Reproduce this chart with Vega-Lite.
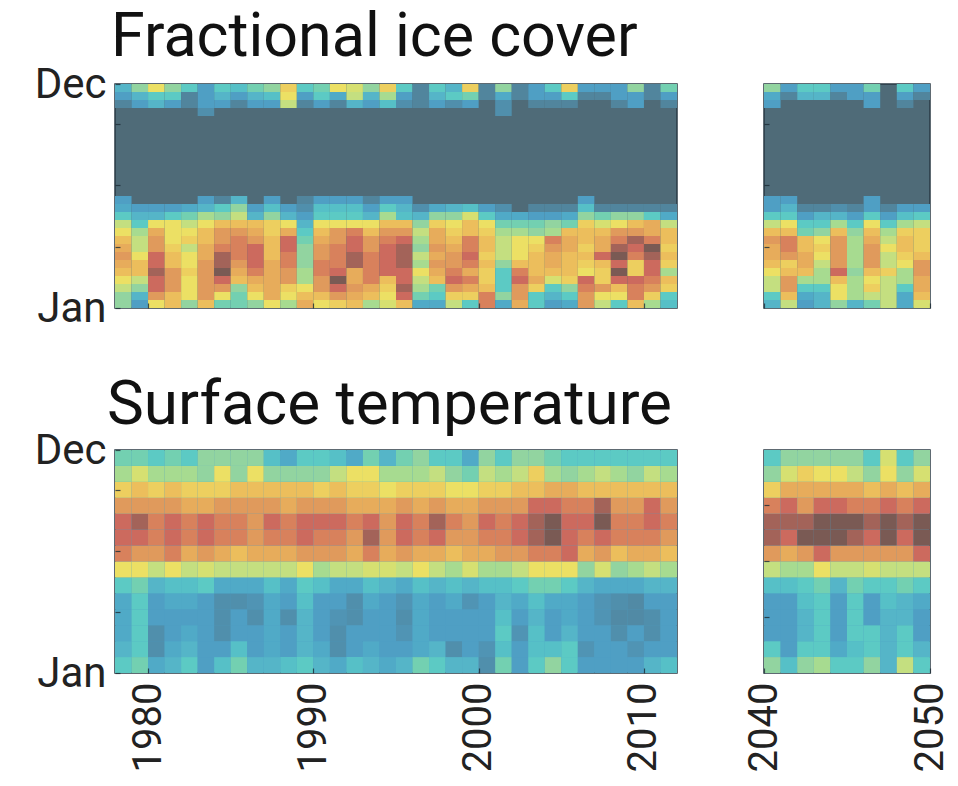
{"$schema":"https://vega.github.io/schema/vega-lite/v6.json","background":"white","padding":{"left":33,"top":6,"right":0,"bottom":0},"bounds":"flush","columns":2,"spacing":{"column":87,"row":142},"config":{"font":"Roboto","axis":{"grid":false,"domain":false,"labelFont":"Roboto","labelColor":"#222222","tickColor":"#1c2c34","tickOpacity":0.8,"tickWidth":1.2}},
"datasets":{
"ice1":[
{"x":1978,"d":0,"v":4},{"x":1978,"d":1,"v":4},{"x":1978,"d":2,"v":5},{"x":1978,"d":3,"v":6},{"x":1978,"d":4,"v":7},{"x":1978,"d":5,"v":7.5},{"x":1978,"d":6,"v":8},{"x":1978,"d":7,"v":7.5},{"x":1978,"d":8,"v":7},{"x":1978,"d":9,"v":6},{"x":1978,"d":10,"v":5},{"x":1978,"d":11,"v":3},{"x":1978,"d":12,"v":1.5},{"x":1978,"d":13,"v":1},{"x":1978,"d":25,"v":0.5},{"x":1978,"d":26,"v":1},{"x":1978,"d":27,"v":2},
{"x":1979,"d":0,"v":1},{"x":1979,"d":1,"v":2},{"x":1979,"d":2,"v":4},{"x":1979,"d":3,"v":5},{"x":1979,"d":4,"v":7},{"x":1979,"d":5,"v":7},{"x":1979,"d":6,"v":6},{"x":1979,"d":7,"v":5},{"x":1979,"d":8,"v":5},{"x":1979,"d":9,"v":4.5},{"x":1979,"d":10,"v":3},{"x":1979,"d":11,"v":2},{"x":1979,"d":12,"v":1},{"x":1979,"d":25,"v":1},{"x":1979,"d":26,"v":2},{"x":1979,"d":27,"v":4},
{"x":1980,"d":0,"v":6},{"x":1980,"d":1,"v":8},{"x":1980,"d":2,"v":9},{"x":1980,"d":3,"v":9},{"x":1980,"d":4,"v":9.5},{"x":1980,"d":5,"v":9},{"x":1980,"d":6,"v":9},{"x":1980,"d":7,"v":8},{"x":1980,"d":8,"v":8},{"x":1980,"d":9,"v":7.5},{"x":1980,"d":10,"v":6},{"x":1980,"d":11,"v":2},{"x":1980,"d":12,"v":1},{"x":1980,"d":25,"v":2},{"x":1980,"d":26,"v":3},{"x":1980,"d":27,"v":6},
{"x":1981,"d":0,"v":7},{"x":1981,"d":1,"v":7},{"x":1981,"d":2,"v":8},{"x":1981,"d":3,"v":8},{"x":1981,"d":4,"v":8},{"x":1981,"d":5,"v":7},{"x":1981,"d":6,"v":7},{"x":1981,"d":7,"v":6.5},{"x":1981,"d":8,"v":6},{"x":1981,"d":9,"v":6},{"x":1981,"d":10,"v":6},{"x":1981,"d":11,"v":3},{"x":1981,"d":12,"v":1},{"x":1981,"d":25,"v":1},{"x":1981,"d":26,"v":3},{"x":1981,"d":27,"v":4},
{"x":1982,"d":0,"v":4},{"x":1982,"d":1,"v":6},{"x":1982,"d":2,"v":6},{"x":1982,"d":3,"v":6},{"x":1982,"d":4,"v":6.5},{"x":1982,"d":5,"v":6},{"x":1982,"d":6,"v":6},{"x":1982,"d":7,"v":5},{"x":1982,"d":8,"v":6.5},{"x":1982,"d":9,"v":6},{"x":1982,"d":10,"v":5},{"x":1982,"d":11,"v":3.5},{"x":1982,"d":12,"v":1.5},{"x":1982,"d":25,"v":0.5},{"x":1982,"d":26,"v":0.5},{"x":1982,"d":27,"v":3},
{"x":1983,"d":0,"v":7},{"x":1983,"d":1,"v":8},{"x":1983,"d":2,"v":8},{"x":1983,"d":3,"v":8},{"x":1983,"d":4,"v":8},{"x":1983,"d":5,"v":8},{"x":1983,"d":6,"v":7.5},{"x":1983,"d":7,"v":7.5},{"x":1983,"d":8,"v":7},{"x":1983,"d":9,"v":7},{"x":1983,"d":10,"v":6},{"x":1983,"d":11,"v":4.5},{"x":1983,"d":12,"v":2},{"x":1983,"d":13,"v":1},{"x":1983,"d":24,"v":0.7},{"x":1983,"d":25,"v":1},{"x":1983,"d":26,"v":1},{"x":1983,"d":27,"v":1},
{"x":1984,"d":0,"v":3.5},{"x":1984,"d":1,"v":6},{"x":1984,"d":2,"v":8},{"x":1984,"d":3,"v":9},{"x":1984,"d":4,"v":10},{"x":1984,"d":5,"v":9.5},{"x":1984,"d":6,"v":9.5},{"x":1984,"d":7,"v":8.5},{"x":1984,"d":8,"v":8},{"x":1984,"d":9,"v":8},{"x":1984,"d":10,"v":7},{"x":1984,"d":11,"v":4},{"x":1984,"d":12,"v":3},{"x":1984,"d":13,"v":0.5},{"x":1984,"d":25,"v":1},{"x":1984,"d":26,"v":2},{"x":1984,"d":27,"v":3},
{"x":1985,"d":0,"v":3.5},{"x":1985,"d":1,"v":3.5},{"x":1985,"d":2,"v":4},{"x":1985,"d":3,"v":7},{"x":1985,"d":4,"v":7.5},{"x":1985,"d":5,"v":8},{"x":1985,"d":6,"v":8.5},{"x":1985,"d":7,"v":8.5},{"x":1985,"d":8,"v":8.5},{"x":1985,"d":9,"v":8},{"x":1985,"d":10,"v":7},{"x":1985,"d":11,"v":5},{"x":1985,"d":12,"v":4},{"x":1985,"d":13,"v":2},{"x":1985,"d":25,"v":0.5},{"x":1985,"d":26,"v":1},{"x":1985,"d":27,"v":2.5},
{"x":1986,"d":0,"v":4},{"x":1986,"d":1,"v":6},{"x":1986,"d":2,"v":7},{"x":1986,"d":3,"v":7.5},{"x":1986,"d":4,"v":8.5},{"x":1986,"d":5,"v":9},{"x":1986,"d":6,"v":9},{"x":1986,"d":7,"v":9},{"x":1986,"d":8,"v":8},{"x":1986,"d":9,"v":7.5},{"x":1986,"d":10,"v":7},{"x":1986,"d":11,"v":2},{"x":1986,"d":12,"v":1},{"x":1986,"d":25,"v":1},{"x":1986,"d":26,"v":2},{"x":1986,"d":27,"v":3.5},
{"x":1987,"d":0,"v":6},{"x":1987,"d":1,"v":7.5},{"x":1987,"d":2,"v":7.5},{"x":1987,"d":3,"v":7.5},{"x":1987,"d":4,"v":7.5},{"x":1987,"d":5,"v":7.5},{"x":1987,"d":6,"v":7},{"x":1987,"d":7,"v":7},{"x":1987,"d":8,"v":7},{"x":1987,"d":9,"v":6.5},{"x":1987,"d":10,"v":6.5},{"x":1987,"d":11,"v":4},{"x":1987,"d":12,"v":2.5},{"x":1987,"d":13,"v":1},{"x":1987,"d":25,"v":1},{"x":1987,"d":26,"v":2.5},{"x":1987,"d":27,"v":4},
{"x":1988,"d":0,"v":4.5},{"x":1988,"d":1,"v":6},{"x":1988,"d":2,"v":6.5},{"x":1988,"d":3,"v":8},{"x":1988,"d":4,"v":8},{"x":1988,"d":5,"v":8.5},{"x":1988,"d":6,"v":8.5},{"x":1988,"d":7,"v":9},{"x":1988,"d":8,"v":9},{"x":1988,"d":9,"v":7.5},{"x":1988,"d":10,"v":6},{"x":1988,"d":11,"v":2},{"x":1988,"d":12,"v":1},{"x":1988,"d":25,"v":5},{"x":1988,"d":26,"v":6},{"x":1988,"d":27,"v":6.5},
{"x":1989,"d":0,"v":7.5},{"x":1989,"d":1,"v":7},{"x":1989,"d":2,"v":6},{"x":1989,"d":3,"v":4.5},{"x":1989,"d":4,"v":4.5},{"x":1989,"d":5,"v":4},{"x":1989,"d":6,"v":4},{"x":1989,"d":7,"v":4},{"x":1989,"d":8,"v":3.5},{"x":1989,"d":9,"v":3},{"x":1989,"d":10,"v":2},{"x":1989,"d":11,"v":1},{"x":1989,"d":12,"v":0.7},{"x":1989,"d":13,"v":0.5},{"x":1989,"d":25,"v":0.5},{"x":1989,"d":26,"v":1},{"x":1989,"d":27,"v":3},
{"x":1990,"d":0,"v":6},{"x":1990,"d":1,"v":7},{"x":1990,"d":2,"v":8},{"x":1990,"d":3,"v":8},{"x":1990,"d":4,"v":8.5},{"x":1990,"d":5,"v":8.5},{"x":1990,"d":6,"v":8},{"x":1990,"d":7,"v":8},{"x":1990,"d":8,"v":7.5},{"x":1990,"d":9,"v":7},{"x":1990,"d":10,"v":6},{"x":1990,"d":11,"v":3},{"x":1990,"d":12,"v":2.5},{"x":1990,"d":13,"v":1},{"x":1990,"d":25,"v":1},{"x":1990,"d":26,"v":3},{"x":1990,"d":27,"v":3.5},
{"x":1991,"d":0,"v":6.5},{"x":1991,"d":1,"v":8},{"x":1991,"d":2,"v":9},{"x":1991,"d":3,"v":10},{"x":1991,"d":4,"v":9},{"x":1991,"d":5,"v":8.5},{"x":1991,"d":6,"v":8.5},{"x":1991,"d":7,"v":8.5},{"x":1991,"d":8,"v":8},{"x":1991,"d":9,"v":8},{"x":1991,"d":10,"v":6},{"x":1991,"d":11,"v":3},{"x":1991,"d":12,"v":2.5},{"x":1991,"d":13,"v":1},{"x":1991,"d":25,"v":0.5},{"x":1991,"d":26,"v":1.5},{"x":1991,"d":27,"v":6},
{"x":1992,"d":0,"v":7},{"x":1992,"d":1,"v":7.5},{"x":1992,"d":2,"v":8},{"x":1992,"d":3,"v":7.5},{"x":1992,"d":4,"v":7.5},{"x":1992,"d":5,"v":9.5},{"x":1992,"d":6,"v":9.5},{"x":1992,"d":7,"v":9},{"x":1992,"d":8,"v":9},{"x":1992,"d":9,"v":8.5},{"x":1992,"d":10,"v":6},{"x":1992,"d":11,"v":3},{"x":1992,"d":12,"v":2.5},{"x":1992,"d":13,"v":1},{"x":1992,"d":25,"v":2},{"x":1992,"d":26,"v":5},{"x":1992,"d":27,"v":5.5},
{"x":1993,"d":0,"v":4.5},{"x":1993,"d":1,"v":7},{"x":1993,"d":2,"v":7.5},{"x":1993,"d":3,"v":8.5},{"x":1993,"d":4,"v":8.5},{"x":1993,"d":5,"v":8.5},{"x":1993,"d":6,"v":8.5},{"x":1993,"d":7,"v":8},{"x":1993,"d":8,"v":8},{"x":1993,"d":9,"v":7},{"x":1993,"d":10,"v":6},{"x":1993,"d":11,"v":2},{"x":1993,"d":12,"v":1},{"x":1993,"d":13,"v":0.5},{"x":1993,"d":25,"v":1},{"x":1993,"d":26,"v":2},{"x":1993,"d":27,"v":4},
{"x":1994,"d":0,"v":5.5},{"x":1994,"d":1,"v":6},{"x":1994,"d":2,"v":6.5},{"x":1994,"d":3,"v":7},{"x":1994,"d":4,"v":9},{"x":1994,"d":5,"v":9},{"x":1994,"d":6,"v":9},{"x":1994,"d":7,"v":9},{"x":1994,"d":8,"v":8.5},{"x":1994,"d":9,"v":8},{"x":1994,"d":10,"v":7},{"x":1994,"d":11,"v":4.5},{"x":1994,"d":12,"v":3},{"x":1994,"d":13,"v":1},{"x":1994,"d":25,"v":2.5},{"x":1994,"d":26,"v":4.5},{"x":1994,"d":27,"v":6.5},
{"x":1995,"d":0,"v":7},{"x":1995,"d":1,"v":9},{"x":1995,"d":2,"v":9.5},{"x":1995,"d":3,"v":9},{"x":1995,"d":4,"v":9},{"x":1995,"d":5,"v":9.5},{"x":1995,"d":6,"v":9.5},{"x":1995,"d":7,"v":9.5},{"x":1995,"d":8,"v":9},{"x":1995,"d":9,"v":8},{"x":1995,"d":10,"v":7},{"x":1995,"d":11,"v":2.5},{"x":1995,"d":12,"v":2},{"x":1995,"d":13,"v":1},{"x":1995,"d":25,"v":0.7},{"x":1995,"d":26,"v":1},{"x":1995,"d":27,"v":3},
{"x":1996,"d":0,"v":1.5},{"x":1996,"d":1,"v":3.5},{"x":1996,"d":2,"v":4.5},{"x":1996,"d":3,"v":5},{"x":1996,"d":4,"v":6},{"x":1996,"d":5,"v":4.5},{"x":1996,"d":6,"v":5},{"x":1996,"d":7,"v":4},{"x":1996,"d":8,"v":4.5},{"x":1996,"d":9,"v":5},{"x":1996,"d":10,"v":4},{"x":1996,"d":11,"v":2},{"x":1996,"d":12,"v":0.7},{"x":1996,"d":25,"v":0.5},{"x":1996,"d":26,"v":0.5},{"x":1996,"d":27,"v":0.5},
{"x":1997,"d":0,"v":1.5},{"x":1997,"d":1,"v":3},{"x":1997,"d":2,"v":3.5},{"x":1997,"d":3,"v":7},{"x":1997,"d":4,"v":7.5},{"x":1997,"d":5,"v":8},{"x":1997,"d":6,"v":7.5},{"x":1997,"d":7,"v":8},{"x":1997,"d":8,"v":7.5},{"x":1997,"d":9,"v":7.5},{"x":1997,"d":10,"v":6.5},{"x":1997,"d":11,"v":4},{"x":1997,"d":12,"v":1.5},{"x":1997,"d":25,"v":1},{"x":1997,"d":26,"v":2},{"x":1997,"d":27,"v":3},
{"x":1998,"d":0,"v":5},{"x":1998,"d":1,"v":6.5},{"x":1998,"d":2,"v":8},{"x":1998,"d":3,"v":9},{"x":1998,"d":4,"v":8.5},{"x":1998,"d":5,"v":8},{"x":1998,"d":6,"v":8},{"x":1998,"d":7,"v":7.5},{"x":1998,"d":8,"v":7},{"x":1998,"d":9,"v":6.5},{"x":1998,"d":10,"v":6},{"x":1998,"d":11,"v":4},{"x":1998,"d":12,"v":2},{"x":1998,"d":25,"v":0.7},{"x":1998,"d":26,"v":3},{"x":1998,"d":27,"v":2},
{"x":1999,"d":0,"v":3},{"x":1999,"d":1,"v":6.5},{"x":1999,"d":2,"v":7.5},{"x":1999,"d":3,"v":8.5},{"x":1999,"d":4,"v":7.5},{"x":1999,"d":5,"v":8.5},{"x":1999,"d":6,"v":9},{"x":1999,"d":7,"v":8.5},{"x":1999,"d":8,"v":8.5},{"x":1999,"d":9,"v":7},{"x":1999,"d":10,"v":7},{"x":1999,"d":11,"v":5.5},{"x":1999,"d":12,"v":2.5},{"x":1999,"d":25,"v":1},{"x":1999,"d":26,"v":3.5},{"x":1999,"d":27,"v":6.5},
{"x":2000,"d":0,"v":8.5},{"x":2000,"d":1,"v":8.5},{"x":2000,"d":2,"v":7},{"x":2000,"d":3,"v":6.5},{"x":2000,"d":4,"v":6.5},{"x":2000,"d":5,"v":7},{"x":2000,"d":6,"v":6.5},{"x":2000,"d":7,"v":7},{"x":2000,"d":8,"v":7},{"x":2000,"d":9,"v":6.5},{"x":2000,"d":10,"v":6},{"x":2000,"d":11,"v":3},{"x":2000,"d":12,"v":1},{"x":2000,"d":26,"v":0.5},{"x":2000,"d":27,"v":0.5},
{"x":2001,"d":0,"v":1.5},{"x":2001,"d":1,"v":4},{"x":2001,"d":2,"v":3},{"x":2001,"d":3,"v":3},{"x":2001,"d":4,"v":3},{"x":2001,"d":5,"v":4},{"x":2001,"d":6,"v":5},{"x":2001,"d":7,"v":5},{"x":2001,"d":8,"v":5},{"x":2001,"d":9,"v":4.5},{"x":2001,"d":10,"v":3.5},{"x":2001,"d":11,"v":1.5},{"x":2001,"d":12,"v":0.7},{"x":2001,"d":24,"v":0.7},{"x":2001,"d":25,"v":0.7},{"x":2001,"d":26,"v":1.5},{"x":2001,"d":27,"v":4},
{"x":2002,"d":0,"v":7.5},{"x":2002,"d":1,"v":8},{"x":2002,"d":2,"v":8},{"x":2002,"d":3,"v":9},{"x":2002,"d":4,"v":8.5},{"x":2002,"d":5,"v":7},{"x":2002,"d":6,"v":6},{"x":2002,"d":7,"v":6},{"x":2002,"d":8,"v":6},{"x":2002,"d":9,"v":4.5},{"x":2002,"d":10,"v":3.5},{"x":2002,"d":11,"v":1.5},{"x":2002,"d":26,"v":0.5},{"x":2002,"d":27,"v":0.5},
{"x":2003,"d":0,"v":3},{"x":2003,"d":1,"v":3},{"x":2003,"d":2,"v":6.5},{"x":2003,"d":3,"v":7.5},{"x":2003,"d":4,"v":7},{"x":2003,"d":5,"v":7},{"x":2003,"d":6,"v":7},{"x":2003,"d":7,"v":6.5},{"x":2003,"d":8,"v":6},{"x":2003,"d":9,"v":4},{"x":2003,"d":10,"v":3.5},{"x":2003,"d":11,"v":1},{"x":2003,"d":12,"v":0.5},{"x":2003,"d":25,"v":0.5},{"x":2003,"d":26,"v":1},{"x":2003,"d":27,"v":1},
{"x":2004,"d":0,"v":1},{"x":2004,"d":1,"v":2},{"x":2004,"d":2,"v":3},{"x":2004,"d":3,"v":5.5},{"x":2004,"d":4,"v":7},{"x":2004,"d":5,"v":7.5},{"x":2004,"d":6,"v":7.5},{"x":2004,"d":7,"v":8},{"x":2004,"d":8,"v":8.5},{"x":2004,"d":9,"v":4.5},{"x":2004,"d":10,"v":4},{"x":2004,"d":11,"v":1},{"x":2004,"d":12,"v":0.5},{"x":2004,"d":25,"v":0.5},{"x":2004,"d":26,"v":1},{"x":2004,"d":27,"v":3},
{"x":2005,"d":0,"v":1.5},{"x":2005,"d":1,"v":3},{"x":2005,"d":2,"v":4},{"x":2005,"d":3,"v":6.5},{"x":2005,"d":4,"v":7},{"x":2005,"d":5,"v":7},{"x":2005,"d":6,"v":7},{"x":2005,"d":7,"v":7.5},{"x":2005,"d":8,"v":7.5},{"x":2005,"d":9,"v":7},{"x":2005,"d":10,"v":3.5},{"x":2005,"d":11,"v":1.5},{"x":2005,"d":12,"v":0.5},{"x":2005,"d":25,"v":0.5},{"x":2005,"d":26,"v":3},{"x":2005,"d":27,"v":6.5},
{"x":2006,"d":0,"v":8},{"x":2006,"d":1,"v":8},{"x":2006,"d":2,"v":8.5},{"x":2006,"d":3,"v":9},{"x":2006,"d":4,"v":6},{"x":2006,"d":5,"v":6.5},{"x":2006,"d":6,"v":7},{"x":2006,"d":7,"v":6.5},{"x":2006,"d":8,"v":7},{"x":2006,"d":9,"v":7},{"x":2006,"d":10,"v":6.5},{"x":2006,"d":11,"v":4},{"x":2006,"d":12,"v":2.5},{"x":2006,"d":13,"v":1},{"x":2006,"d":26,"v":0.5},{"x":2006,"d":27,"v":1},
{"x":2007,"d":0,"v":5},{"x":2007,"d":1,"v":6},{"x":2007,"d":2,"v":8},{"x":2007,"d":3,"v":6.5},{"x":2007,"d":4,"v":6.5},{"x":2007,"d":5,"v":7},{"x":2007,"d":6,"v":9},{"x":2007,"d":7,"v":7.5},{"x":2007,"d":8,"v":7.5},{"x":2007,"d":9,"v":7},{"x":2007,"d":10,"v":5.5},{"x":2007,"d":11,"v":3.5},{"x":2007,"d":12,"v":0.5},{"x":2007,"d":26,"v":0.5},{"x":2007,"d":27,"v":1},
{"x":2008,"d":0,"v":3},{"x":2008,"d":1,"v":6},{"x":2008,"d":2,"v":7},{"x":2008,"d":3,"v":9},{"x":2008,"d":4,"v":10},{"x":2008,"d":5,"v":9},{"x":2008,"d":6,"v":10},{"x":2008,"d":7,"v":9.5},{"x":2008,"d":8,"v":8.5},{"x":2008,"d":9,"v":8},{"x":2008,"d":10,"v":6},{"x":2008,"d":11,"v":4},{"x":2008,"d":12,"v":0.5},{"x":2008,"d":25,"v":0.5},{"x":2008,"d":26,"v":1},{"x":2008,"d":27,"v":1},
{"x":2009,"d":0,"v":7},{"x":2009,"d":1,"v":8.5},{"x":2009,"d":2,"v":8.5},{"x":2009,"d":3,"v":9},{"x":2009,"d":4,"v":6.5},{"x":2009,"d":5,"v":6.5},{"x":2009,"d":6,"v":8.5},{"x":2009,"d":7,"v":9},{"x":2009,"d":8,"v":9.5},{"x":2009,"d":9,"v":8},{"x":2009,"d":10,"v":7},{"x":2009,"d":11,"v":4},{"x":2009,"d":12,"v":0.5},{"x":2009,"d":25,"v":1},{"x":2009,"d":26,"v":1},{"x":2009,"d":27,"v":4},
{"x":2010,"d":0,"v":4.5},{"x":2010,"d":1,"v":6.5},{"x":2010,"d":2,"v":8},{"x":2010,"d":3,"v":8.5},{"x":2010,"d":4,"v":9},{"x":2010,"d":5,"v":9},{"x":2010,"d":6,"v":9.5},{"x":2010,"d":7,"v":10},{"x":2010,"d":8,"v":8.5},{"x":2010,"d":9,"v":7.5},{"x":2010,"d":10,"v":7.5},{"x":2010,"d":11,"v":3},{"x":2010,"d":12,"v":0.5},{"x":2010,"d":26,"v":0.5},{"x":2010,"d":27,"v":0.5},
{"x":2011,"d":0,"v":2.5},{"x":2011,"d":1,"v":3},{"x":2011,"d":2,"v":6.5},{"x":2011,"d":3,"v":7},{"x":2011,"d":4,"v":4.5},{"x":2011,"d":5,"v":6.5},{"x":2011,"d":6,"v":7},{"x":2011,"d":7,"v":6.5},{"x":2011,"d":8,"v":7},{"x":2011,"d":9,"v":7},{"x":2011,"d":10,"v":5},{"x":2011,"d":11,"v":1.5},{"x":2011,"d":12,"v":0.5},{"x":2011,"d":25,"v":0.5},{"x":2011,"d":26,"v":1},{"x":2011,"d":27,"v":3.5}
],
"ice2":[
{"x":2040,"d":0,"v":2},{"x":2040,"d":1,"v":3},{"x":2040,"d":2,"v":5},{"x":2040,"d":3,"v":5},{"x":2040,"d":4,"v":6},{"x":2040,"d":5,"v":7},{"x":2040,"d":6,"v":7.5},{"x":2040,"d":7,"v":7.5},{"x":2040,"d":8,"v":8},{"x":2040,"d":9,"v":7},{"x":2040,"d":10,"v":5},{"x":2040,"d":11,"v":3},{"x":2040,"d":12,"v":1},{"x":2040,"d":13,"v":1},{"x":2040,"d":25,"v":1},{"x":2040,"d":26,"v":1.5},{"x":2040,"d":27,"v":4},
{"x":2041,"d":0,"v":5},{"x":2041,"d":1,"v":7},{"x":2041,"d":2,"v":8},{"x":2041,"d":3,"v":8},{"x":2041,"d":4,"v":7},{"x":2041,"d":5,"v":6.5},{"x":2041,"d":6,"v":8},{"x":2041,"d":7,"v":8.5},{"x":2041,"d":8,"v":8.5},{"x":2041,"d":9,"v":7},{"x":2041,"d":10,"v":6},{"x":2041,"d":11,"v":3},{"x":2041,"d":12,"v":2},{"x":2041,"d":13,"v":1},{"x":2041,"d":26,"v":0.5},{"x":2041,"d":27,"v":1},
{"x":2042,"d":0,"v":1},{"x":2042,"d":1,"v":1.5},{"x":2042,"d":2,"v":3},{"x":2042,"d":3,"v":4.5},{"x":2042,"d":4,"v":7},{"x":2042,"d":5,"v":7.5},{"x":2042,"d":6,"v":7.5},{"x":2042,"d":7,"v":7},{"x":2042,"d":8,"v":7},{"x":2042,"d":9,"v":3.5},{"x":2042,"d":10,"v":3},{"x":2042,"d":11,"v":1},{"x":2042,"d":12,"v":0.5},{"x":2042,"d":26,"v":2},{"x":2042,"d":27,"v":3},
{"x":2043,"d":0,"v":2},{"x":2043,"d":1,"v":2},{"x":2043,"d":2,"v":3},{"x":2043,"d":3,"v":4.5},{"x":2043,"d":4,"v":4.5},{"x":2043,"d":5,"v":5},{"x":2043,"d":6,"v":6},{"x":2043,"d":7,"v":6.5},{"x":2043,"d":8,"v":6},{"x":2043,"d":9,"v":4},{"x":2043,"d":10,"v":3},{"x":2043,"d":11,"v":2},{"x":2043,"d":12,"v":0.5},{"x":2043,"d":26,"v":2},{"x":2043,"d":27,"v":3},
{"x":2044,"d":0,"v":4},{"x":2044,"d":1,"v":6},{"x":2044,"d":2,"v":6},{"x":2044,"d":3,"v":7},{"x":2044,"d":4,"v":9},{"x":2044,"d":5,"v":8},{"x":2044,"d":6,"v":8},{"x":2044,"d":7,"v":8},{"x":2044,"d":8,"v":8},{"x":2044,"d":9,"v":7},{"x":2044,"d":10,"v":4.5},{"x":2044,"d":11,"v":2},{"x":2044,"d":12,"v":0.7},{"x":2044,"d":26,"v":0.5},{"x":2044,"d":27,"v":1},
{"x":2045,"d":0,"v":2},{"x":2045,"d":1,"v":4.5},{"x":2045,"d":2,"v":4.5},{"x":2045,"d":3,"v":4.5},{"x":2045,"d":4,"v":4},{"x":2045,"d":5,"v":4.5},{"x":2045,"d":6,"v":4.5},{"x":2045,"d":7,"v":4.5},{"x":2045,"d":8,"v":4.5},{"x":2045,"d":9,"v":4},{"x":2045,"d":10,"v":3},{"x":2045,"d":11,"v":1},{"x":2045,"d":12,"v":0.5},{"x":2045,"d":26,"v":1},{"x":2045,"d":27,"v":1},
{"x":2046,"d":0,"v":3.5},{"x":2046,"d":1,"v":5},{"x":2046,"d":2,"v":6.5},{"x":2046,"d":3,"v":6},{"x":2046,"d":4,"v":7},{"x":2046,"d":5,"v":8},{"x":2046,"d":6,"v":8},{"x":2046,"d":7,"v":8},{"x":2046,"d":8,"v":7.5},{"x":2046,"d":9,"v":7},{"x":2046,"d":10,"v":6},{"x":2046,"d":11,"v":3},{"x":2046,"d":12,"v":1},{"x":2046,"d":13,"v":1},{"x":2046,"d":25,"v":1},{"x":2046,"d":26,"v":1},{"x":2046,"d":27,"v":3.5},
{"x":2047,"d":0,"v":5},{"x":2047,"d":1,"v":5},{"x":2047,"d":2,"v":5},{"x":2047,"d":3,"v":5},{"x":2047,"d":4,"v":6.5},{"x":2047,"d":5,"v":5},{"x":2047,"d":6,"v":5},{"x":2047,"d":7,"v":6},{"x":2047,"d":8,"v":5},{"x":2047,"d":9,"v":4.5},{"x":2047,"d":10,"v":3},{"x":2047,"d":11,"v":1},{"x":2047,"d":12,"v":0.5},
{"x":2048,"d":0,"v":1.5},{"x":2048,"d":1,"v":1.5},{"x":2048,"d":2,"v":3},{"x":2048,"d":3,"v":4.5},{"x":2048,"d":4,"v":4.5},{"x":2048,"d":5,"v":6},{"x":2048,"d":6,"v":6.5},{"x":2048,"d":7,"v":7},{"x":2048,"d":8,"v":7},{"x":2048,"d":9,"v":6.5},{"x":2048,"d":10,"v":4.5},{"x":2048,"d":11,"v":2.5},{"x":2048,"d":12,"v":1},{"x":2048,"d":25,"v":0.5},{"x":2048,"d":26,"v":1},{"x":2048,"d":27,"v":3},
{"x":2049,"d":0,"v":5.5},{"x":2049,"d":1,"v":7},{"x":2049,"d":2,"v":7.5},{"x":2049,"d":3,"v":7.5},{"x":2049,"d":4,"v":8},{"x":2049,"d":5,"v":8},{"x":2049,"d":6,"v":7},{"x":2049,"d":7,"v":6.5},{"x":2049,"d":8,"v":6.5},{"x":2049,"d":9,"v":6.5},{"x":2049,"d":10,"v":5},{"x":2049,"d":11,"v":3},{"x":2049,"d":12,"v":1},{"x":2049,"d":26,"v":0.5},{"x":2049,"d":27,"v":1}
],
"sst1":[
{"x":1978,"d":0,"v":3},{"x":1978,"d":1,"v":2},{"x":1978,"d":2,"v":1.5},{"x":1978,"d":3,"v":1.5},{"x":1978,"d":4,"v":1.5},{"x":1978,"d":5,"v":3},{"x":1978,"d":6,"v":6},{"x":1978,"d":7,"v":8.5},{"x":1978,"d":8,"v":9},{"x":1978,"d":9,"v":9},{"x":1978,"d":10,"v":8},{"x":1978,"d":11,"v":6.5},{"x":1978,"d":12,"v":4.5},{"x":1978,"d":13,"v":3.5},
{"x":1979,"d":0,"v":3.5},{"x":1979,"d":1,"v":3},{"x":1979,"d":2,"v":3},{"x":1979,"d":3,"v":3},{"x":1979,"d":4,"v":3},{"x":1979,"d":5,"v":3.5},{"x":1979,"d":6,"v":6},{"x":1979,"d":7,"v":8},{"x":1979,"d":8,"v":9},{"x":1979,"d":9,"v":9.5},{"x":1979,"d":10,"v":8},{"x":1979,"d":11,"v":7},{"x":1979,"d":12,"v":5.5},{"x":1979,"d":13,"v":3.5},
{"x":1980,"d":0,"v":1.5},{"x":1980,"d":1,"v":0.7},{"x":1980,"d":2,"v":0.7},{"x":1980,"d":3,"v":1},{"x":1980,"d":4,"v":1},{"x":1980,"d":5,"v":2},{"x":1980,"d":6,"v":5},{"x":1980,"d":7,"v":8},{"x":1980,"d":8,"v":8.5},{"x":1980,"d":9,"v":8.5},{"x":1980,"d":10,"v":8},{"x":1980,"d":11,"v":6.5},{"x":1980,"d":12,"v":4.5},{"x":1980,"d":13,"v":3},
{"x":1981,"d":0,"v":2},{"x":1981,"d":1,"v":1.5},{"x":1981,"d":2,"v":1},{"x":1981,"d":3,"v":1},{"x":1981,"d":4,"v":1.5},{"x":1981,"d":5,"v":2.5},{"x":1981,"d":6,"v":6},{"x":1981,"d":7,"v":8.5},{"x":1981,"d":8,"v":9},{"x":1981,"d":9,"v":9},{"x":1981,"d":10,"v":8},{"x":1981,"d":11,"v":7},{"x":1981,"d":12,"v":4.5},{"x":1981,"d":13,"v":3.5},
{"x":1982,"d":0,"v":3},{"x":1982,"d":1,"v":2},{"x":1982,"d":2,"v":1.5},{"x":1982,"d":3,"v":1},{"x":1982,"d":4,"v":1.5},{"x":1982,"d":5,"v":2.5},{"x":1982,"d":6,"v":5},{"x":1982,"d":7,"v":7.5},{"x":1982,"d":8,"v":8.5},{"x":1982,"d":9,"v":8.5},{"x":1982,"d":10,"v":7.5},{"x":1982,"d":11,"v":6.5},{"x":1982,"d":12,"v":4.5},{"x":1982,"d":13,"v":3},
{"x":1983,"d":0,"v":1},{"x":1983,"d":1,"v":1},{"x":1983,"d":2,"v":1},{"x":1983,"d":3,"v":1},{"x":1983,"d":4,"v":1},{"x":1983,"d":5,"v":3},{"x":1983,"d":6,"v":5.5},{"x":1983,"d":7,"v":8},{"x":1983,"d":8,"v":9},{"x":1983,"d":9,"v":9},{"x":1983,"d":10,"v":7.5},{"x":1983,"d":11,"v":6.5},{"x":1983,"d":12,"v":4},{"x":1983,"d":13,"v":4},
{"x":1984,"d":0,"v":2.5},{"x":1984,"d":1,"v":1},{"x":1984,"d":2,"v":0.7},{"x":1984,"d":3,"v":0.7},{"x":1984,"d":4,"v":0.7},{"x":1984,"d":5,"v":1.5},{"x":1984,"d":6,"v":5},{"x":1984,"d":7,"v":7.5},{"x":1984,"d":8,"v":8.5},{"x":1984,"d":9,"v":8.5},{"x":1984,"d":10,"v":8},{"x":1984,"d":11,"v":6.5},{"x":1984,"d":12,"v":6},{"x":1984,"d":13,"v":4},
{"x":1985,"d":0,"v":3.5},{"x":1985,"d":1,"v":2.5},{"x":1985,"d":2,"v":1},{"x":1985,"d":3,"v":1},{"x":1985,"d":4,"v":0.7},{"x":1985,"d":5,"v":1.5},{"x":1985,"d":6,"v":5},{"x":1985,"d":7,"v":7},{"x":1985,"d":8,"v":8.5},{"x":1985,"d":9,"v":8.5},{"x":1985,"d":10,"v":8},{"x":1985,"d":11,"v":7},{"x":1985,"d":12,"v":4},{"x":1985,"d":13,"v":4},
{"x":1986,"d":0,"v":2},{"x":1986,"d":1,"v":1},{"x":1986,"d":2,"v":1},{"x":1986,"d":3,"v":0.7},{"x":1986,"d":4,"v":0.8},{"x":1986,"d":5,"v":1.5},{"x":1986,"d":6,"v":5},{"x":1986,"d":7,"v":7.5},{"x":1986,"d":8,"v":8},{"x":1986,"d":9,"v":8},{"x":1986,"d":10,"v":8},{"x":1986,"d":11,"v":7},{"x":1986,"d":12,"v":6},{"x":1986,"d":13,"v":4},
{"x":1987,"d":0,"v":2},{"x":1987,"d":1,"v":1.5},{"x":1987,"d":2,"v":1.5},{"x":1987,"d":3,"v":1.5},{"x":1987,"d":4,"v":1.5},{"x":1987,"d":5,"v":2.5},{"x":1987,"d":6,"v":5},{"x":1987,"d":7,"v":7.5},{"x":1987,"d":8,"v":8.5},{"x":1987,"d":9,"v":9},{"x":1987,"d":10,"v":8},{"x":1987,"d":11,"v":7},{"x":1987,"d":12,"v":4},{"x":1987,"d":13,"v":2.5},
{"x":1988,"d":0,"v":2.5},{"x":1988,"d":1,"v":1},{"x":1988,"d":2,"v":1},{"x":1988,"d":3,"v":0.7},{"x":1988,"d":4,"v":1},{"x":1988,"d":5,"v":1.5},{"x":1988,"d":6,"v":5},{"x":1988,"d":7,"v":7.5},{"x":1988,"d":8,"v":8.5},{"x":1988,"d":9,"v":8.5},{"x":1988,"d":10,"v":7.5},{"x":1988,"d":11,"v":7},{"x":1988,"d":12,"v":4},{"x":1988,"d":13,"v":1.5},
{"x":1989,"d":0,"v":3},{"x":1989,"d":1,"v":2},{"x":1989,"d":2,"v":2},{"x":1989,"d":3,"v":2},{"x":1989,"d":4,"v":2.5},{"x":1989,"d":5,"v":3},{"x":1989,"d":6,"v":6},{"x":1989,"d":7,"v":8},{"x":1989,"d":8,"v":9},{"x":1989,"d":9,"v":9},{"x":1989,"d":10,"v":8},{"x":1989,"d":11,"v":7},{"x":1989,"d":12,"v":4},{"x":1989,"d":13,"v":3},
{"x":1990,"d":0,"v":2},{"x":1990,"d":1,"v":1.5},{"x":1990,"d":2,"v":1},{"x":1990,"d":3,"v":1},{"x":1990,"d":4,"v":1},{"x":1990,"d":5,"v":2.5},{"x":1990,"d":6,"v":4.5},{"x":1990,"d":7,"v":8},{"x":1990,"d":8,"v":8.5},{"x":1990,"d":9,"v":9},{"x":1990,"d":10,"v":8},{"x":1990,"d":11,"v":6.5},{"x":1990,"d":12,"v":4},{"x":1990,"d":13,"v":3},
{"x":1991,"d":0,"v":1.5},{"x":1991,"d":1,"v":0.7},{"x":1991,"d":2,"v":0.7},{"x":1991,"d":3,"v":0.8},{"x":1991,"d":4,"v":1},{"x":1991,"d":5,"v":1.5},{"x":1991,"d":6,"v":5},{"x":1991,"d":7,"v":8},{"x":1991,"d":8,"v":8.5},{"x":1991,"d":9,"v":9},{"x":1991,"d":10,"v":8},{"x":1991,"d":11,"v":7},{"x":1991,"d":12,"v":5},{"x":1991,"d":13,"v":2.5},
{"x":1992,"d":0,"v":2.5},{"x":1992,"d":1,"v":1},{"x":1992,"d":2,"v":1},{"x":1992,"d":3,"v":0.7},{"x":1992,"d":4,"v":0.7},{"x":1992,"d":5,"v":1.5},{"x":1992,"d":6,"v":5},{"x":1992,"d":7,"v":7.5},{"x":1992,"d":8,"v":8},{"x":1992,"d":9,"v":8.5},{"x":1992,"d":10,"v":7.5},{"x":1992,"d":11,"v":6.5},{"x":1992,"d":12,"v":6},{"x":1992,"d":13,"v":1.5},
{"x":1993,"d":0,"v":2},{"x":1993,"d":1,"v":1.5},{"x":1993,"d":2,"v":1},{"x":1993,"d":3,"v":1},{"x":1993,"d":4,"v":1.5},{"x":1993,"d":5,"v":2.5},{"x":1993,"d":6,"v":5.5},{"x":1993,"d":7,"v":8.5},{"x":1993,"d":8,"v":9.5},{"x":1993,"d":9,"v":9},{"x":1993,"d":10,"v":7.5},{"x":1993,"d":11,"v":6.5},{"x":1993,"d":12,"v":6},{"x":1993,"d":13,"v":3.5},
{"x":1994,"d":0,"v":1.5},{"x":1994,"d":1,"v":1},{"x":1994,"d":2,"v":1},{"x":1994,"d":3,"v":1},{"x":1994,"d":4,"v":1},{"x":1994,"d":5,"v":2},{"x":1994,"d":6,"v":5.5},{"x":1994,"d":7,"v":7.5},{"x":1994,"d":8,"v":8},{"x":1994,"d":9,"v":8},{"x":1994,"d":10,"v":7.5},{"x":1994,"d":11,"v":6},{"x":1994,"d":12,"v":4.5},{"x":1994,"d":13,"v":2},
{"x":1995,"d":0,"v":2},{"x":1995,"d":1,"v":1},{"x":1995,"d":2,"v":0.8},{"x":1995,"d":3,"v":0.7},{"x":1995,"d":4,"v":0.8},{"x":1995,"d":5,"v":1.5},{"x":1995,"d":6,"v":5},{"x":1995,"d":7,"v":8},{"x":1995,"d":8,"v":9},{"x":1995,"d":9,"v":9},{"x":1995,"d":10,"v":8},{"x":1995,"d":11,"v":6.5},{"x":1995,"d":12,"v":4.5},{"x":1995,"d":13,"v":3.5},
{"x":1996,"d":0,"v":3.5},{"x":1996,"d":1,"v":1.5},{"x":1996,"d":2,"v":1.5},{"x":1996,"d":3,"v":1.5},{"x":1996,"d":4,"v":1.5},{"x":1996,"d":5,"v":2.5},{"x":1996,"d":6,"v":6},{"x":1996,"d":7,"v":7.5},{"x":1996,"d":8,"v":8.5},{"x":1996,"d":9,"v":8.5},{"x":1996,"d":10,"v":7.5},{"x":1996,"d":11,"v":6.5},{"x":1996,"d":12,"v":4.5},{"x":1996,"d":13,"v":4},
{"x":1997,"d":0,"v":3},{"x":1997,"d":1,"v":2},{"x":1997,"d":2,"v":1},{"x":1997,"d":3,"v":1},{"x":1997,"d":4,"v":1},{"x":1997,"d":5,"v":2},{"x":1997,"d":6,"v":5},{"x":1997,"d":7,"v":7.5},{"x":1997,"d":8,"v":9},{"x":1997,"d":9,"v":9.5},{"x":1997,"d":10,"v":8},{"x":1997,"d":11,"v":6.5},{"x":1997,"d":12,"v":5},{"x":1997,"d":13,"v":3},
{"x":1998,"d":0,"v":2},{"x":1998,"d":1,"v":0.7},{"x":1998,"d":2,"v":1},{"x":1998,"d":3,"v":1},{"x":1998,"d":4,"v":1.5},{"x":1998,"d":5,"v":2.5},{"x":1998,"d":6,"v":4.5},{"x":1998,"d":7,"v":7},{"x":1998,"d":8,"v":8},{"x":1998,"d":9,"v":8.5},{"x":1998,"d":10,"v":7.5},{"x":1998,"d":11,"v":6},{"x":1998,"d":12,"v":4},{"x":1998,"d":13,"v":3},
{"x":1999,"d":0,"v":2},{"x":1999,"d":1,"v":1},{"x":1999,"d":2,"v":1},{"x":1999,"d":3,"v":1},{"x":1999,"d":4,"v":0.8},{"x":1999,"d":5,"v":2},{"x":1999,"d":6,"v":5.5},{"x":1999,"d":7,"v":7.5},{"x":1999,"d":8,"v":8},{"x":1999,"d":9,"v":8},{"x":1999,"d":10,"v":7.5},{"x":1999,"d":11,"v":6},{"x":1999,"d":12,"v":3.5},{"x":1999,"d":13,"v":1.5},
{"x":2000,"d":0,"v":0.7},{"x":2000,"d":1,"v":0.8},{"x":2000,"d":2,"v":1},{"x":2000,"d":3,"v":1},{"x":2000,"d":4,"v":1},{"x":2000,"d":5,"v":2.5},{"x":2000,"d":6,"v":4.5},{"x":2000,"d":7,"v":7.5},{"x":2000,"d":8,"v":8.5},{"x":2000,"d":9,"v":9},{"x":2000,"d":10,"v":8},{"x":2000,"d":11,"v":6.5},{"x":2000,"d":12,"v":5},{"x":2000,"d":13,"v":4},
{"x":2001,"d":0,"v":3.5},{"x":2001,"d":1,"v":2.5},{"x":2001,"d":2,"v":3},{"x":2001,"d":3,"v":2.5},{"x":2001,"d":4,"v":2},{"x":2001,"d":5,"v":2.5},{"x":2001,"d":6,"v":4.5},{"x":2001,"d":7,"v":8},{"x":2001,"d":8,"v":8.5},{"x":2001,"d":9,"v":8.5},{"x":2001,"d":10,"v":8},{"x":2001,"d":11,"v":6.5},{"x":2001,"d":12,"v":4.5},{"x":2001,"d":13,"v":3},
{"x":2002,"d":0,"v":1},{"x":2002,"d":1,"v":1},{"x":2002,"d":2,"v":0.8},{"x":2002,"d":3,"v":1},{"x":2002,"d":4,"v":1.5},{"x":2002,"d":5,"v":3},{"x":2002,"d":6,"v":5},{"x":2002,"d":7,"v":8},{"x":2002,"d":8,"v":9},{"x":2002,"d":9,"v":9},{"x":2002,"d":10,"v":8},{"x":2002,"d":11,"v":7},{"x":2002,"d":12,"v":5},{"x":2002,"d":13,"v":4},
{"x":2003,"d":0,"v":3},{"x":2003,"d":1,"v":2.5},{"x":2003,"d":2,"v":2.5},{"x":2003,"d":3,"v":2},{"x":2003,"d":4,"v":2.5},{"x":2003,"d":5,"v":3.5},{"x":2003,"d":6,"v":6},{"x":2003,"d":7,"v":8.5},{"x":2003,"d":8,"v":9.5},{"x":2003,"d":9,"v":9.5},{"x":2003,"d":10,"v":9},{"x":2003,"d":11,"v":7},{"x":2003,"d":12,"v":6.5},{"x":2003,"d":13,"v":4},
{"x":2004,"d":0,"v":4},{"x":2004,"d":1,"v":2.5},{"x":2004,"d":2,"v":1},{"x":2004,"d":3,"v":1},{"x":2004,"d":4,"v":1.5},{"x":2004,"d":5,"v":3.5},{"x":2004,"d":6,"v":6},{"x":2004,"d":7,"v":8.5},{"x":2004,"d":8,"v":10},{"x":2004,"d":9,"v":10},{"x":2004,"d":10,"v":9},{"x":2004,"d":11,"v":7.5},{"x":2004,"d":12,"v":4.5},{"x":2004,"d":13,"v":3.5},
{"x":2005,"d":0,"v":3},{"x":2005,"d":1,"v":3},{"x":2005,"d":2,"v":2},{"x":2005,"d":3,"v":1.5},{"x":2005,"d":4,"v":1.5},{"x":2005,"d":5,"v":3},{"x":2005,"d":6,"v":6},{"x":2005,"d":7,"v":9},{"x":2005,"d":8,"v":9},{"x":2005,"d":9,"v":9},{"x":2005,"d":10,"v":8.5},{"x":2005,"d":11,"v":7.5},{"x":2005,"d":12,"v":4},{"x":2005,"d":13,"v":3},
{"x":2006,"d":0,"v":1},{"x":2006,"d":1,"v":0.8},{"x":2006,"d":2,"v":1},{"x":2006,"d":3,"v":1},{"x":2006,"d":4,"v":1},{"x":2006,"d":5,"v":2},{"x":2006,"d":6,"v":4},{"x":2006,"d":7,"v":7.5},{"x":2006,"d":8,"v":8.5},{"x":2006,"d":9,"v":9},{"x":2006,"d":10,"v":8.5},{"x":2006,"d":11,"v":7},{"x":2006,"d":12,"v":4.5},{"x":2006,"d":13,"v":3},
{"x":2007,"d":0,"v":1},{"x":2007,"d":1,"v":1},{"x":2007,"d":2,"v":1},{"x":2007,"d":3,"v":0.8},{"x":2007,"d":4,"v":0.8},{"x":2007,"d":5,"v":1.5},{"x":2007,"d":6,"v":5.5},{"x":2007,"d":7,"v":8},{"x":2007,"d":8,"v":9},{"x":2007,"d":9,"v":10},{"x":2007,"d":10,"v":9.5},{"x":2007,"d":11,"v":7},{"x":2007,"d":12,"v":5},{"x":2007,"d":13,"v":3},
{"x":2008,"d":0,"v":1},{"x":2008,"d":1,"v":1},{"x":2008,"d":2,"v":0.7},{"x":2008,"d":3,"v":0.6},{"x":2008,"d":4,"v":0.7},{"x":2008,"d":5,"v":1.5},{"x":2008,"d":6,"v":4},{"x":2008,"d":7,"v":7},{"x":2008,"d":8,"v":8.5},{"x":2008,"d":9,"v":8.5},{"x":2008,"d":10,"v":8},{"x":2008,"d":11,"v":7},{"x":2008,"d":12,"v":4.5},{"x":2008,"d":13,"v":3},
{"x":2009,"d":0,"v":1},{"x":2009,"d":1,"v":0.8},{"x":2009,"d":2,"v":1},{"x":2009,"d":3,"v":0.6},{"x":2009,"d":4,"v":0.6},{"x":2009,"d":5,"v":1.5},{"x":2009,"d":6,"v":4.5},{"x":2009,"d":7,"v":7.5},{"x":2009,"d":8,"v":8.5},{"x":2009,"d":9,"v":8.5},{"x":2009,"d":10,"v":8},{"x":2009,"d":11,"v":7},{"x":2009,"d":12,"v":4},{"x":2009,"d":13,"v":3},
{"x":2010,"d":0,"v":2},{"x":2010,"d":1,"v":1},{"x":2010,"d":2,"v":0.7},{"x":2010,"d":3,"v":0.7},{"x":2010,"d":4,"v":1},{"x":2010,"d":5,"v":2},{"x":2010,"d":6,"v":5},{"x":2010,"d":7,"v":7.5},{"x":2010,"d":8,"v":8.5},{"x":2010,"d":9,"v":9},{"x":2010,"d":10,"v":9},{"x":2010,"d":11,"v":7},{"x":2010,"d":12,"v":5},{"x":2010,"d":13,"v":3},
{"x":2011,"d":0,"v":2.5},{"x":2011,"d":1,"v":1},{"x":2011,"d":2,"v":1},{"x":2011,"d":3,"v":1},{"x":2011,"d":4,"v":1},{"x":2011,"d":5,"v":2},{"x":2011,"d":6,"v":4.5},{"x":2011,"d":7,"v":7},{"x":2011,"d":8,"v":8},{"x":2011,"d":9,"v":8.5},{"x":2011,"d":10,"v":8},{"x":2011,"d":11,"v":7},{"x":2011,"d":12,"v":4.5},{"x":2011,"d":13,"v":3}
],
"sst2":[
{"x":2040,"d":0,"v":4},{"x":2040,"d":1,"v":3},{"x":2040,"d":2,"v":1},{"x":2040,"d":3,"v":1},{"x":2040,"d":4,"v":1},{"x":2040,"d":5,"v":2.5},{"x":2040,"d":6,"v":5},{"x":2040,"d":7,"v":8},{"x":2040,"d":8,"v":9.5},{"x":2040,"d":9,"v":9.5},{"x":2040,"d":10,"v":8.5},{"x":2040,"d":11,"v":6.5},{"x":2040,"d":12,"v":4},{"x":2040,"d":13,"v":3},
{"x":2041,"d":0,"v":2.5},{"x":2041,"d":1,"v":1},{"x":2041,"d":2,"v":1},{"x":2041,"d":3,"v":1},{"x":2041,"d":4,"v":1},{"x":2041,"d":5,"v":2.5},{"x":2041,"d":6,"v":4.5},{"x":2041,"d":7,"v":7.5},{"x":2041,"d":8,"v":9},{"x":2041,"d":9,"v":9.5},{"x":2041,"d":10,"v":9},{"x":2041,"d":11,"v":7.5},{"x":2041,"d":12,"v":5.5},{"x":2041,"d":13,"v":4},
{"x":2042,"d":0,"v":4},{"x":2042,"d":1,"v":3},{"x":2042,"d":2,"v":2},{"x":2042,"d":3,"v":2},{"x":2042,"d":4,"v":2.5},{"x":2042,"d":5,"v":3},{"x":2042,"d":6,"v":4.5},{"x":2042,"d":7,"v":8},{"x":2042,"d":8,"v":10},{"x":2042,"d":9,"v":9.5},{"x":2042,"d":10,"v":8},{"x":2042,"d":11,"v":7.5},{"x":2042,"d":12,"v":6.5},{"x":2042,"d":13,"v":4},
{"x":2043,"d":0,"v":4.5},{"x":2043,"d":1,"v":3},{"x":2043,"d":2,"v":3},{"x":2043,"d":3,"v":3},{"x":2043,"d":4,"v":3},{"x":2043,"d":5,"v":3.5},{"x":2043,"d":6,"v":6},{"x":2043,"d":7,"v":9},{"x":2043,"d":8,"v":10},{"x":2043,"d":9,"v":10},{"x":2043,"d":10,"v":9},{"x":2043,"d":11,"v":7.5},{"x":2043,"d":12,"v":6},{"x":2043,"d":13,"v":4},
{"x":2044,"d":0,"v":3},{"x":2044,"d":1,"v":1.5},{"x":2044,"d":2,"v":1},{"x":2044,"d":3,"v":1},{"x":2044,"d":4,"v":1},{"x":2044,"d":5,"v":2},{"x":2044,"d":6,"v":5},{"x":2044,"d":7,"v":8},{"x":2044,"d":8,"v":10},{"x":2044,"d":9,"v":10},{"x":2044,"d":10,"v":9},{"x":2044,"d":11,"v":7.5},{"x":2044,"d":12,"v":6},{"x":2044,"d":13,"v":4},
{"x":2045,"d":0,"v":3},{"x":2045,"d":1,"v":2.5},{"x":2045,"d":2,"v":3},{"x":2045,"d":3,"v":3},{"x":2045,"d":4,"v":3},{"x":2045,"d":5,"v":3.5},{"x":2045,"d":6,"v":5},{"x":2045,"d":7,"v":8},{"x":2045,"d":8,"v":9.5},{"x":2045,"d":9,"v":10},{"x":2045,"d":10,"v":8.5},{"x":2045,"d":11,"v":7.5},{"x":2045,"d":12,"v":5},{"x":2045,"d":13,"v":4},
{"x":2046,"d":0,"v":4},{"x":2046,"d":1,"v":3},{"x":2046,"d":2,"v":3},{"x":2046,"d":3,"v":1},{"x":2046,"d":4,"v":1},{"x":2046,"d":5,"v":3},{"x":2046,"d":6,"v":5.5},{"x":2046,"d":7,"v":8},{"x":2046,"d":8,"v":9},{"x":2046,"d":9,"v":9.5},{"x":2046,"d":10,"v":8.5},{"x":2046,"d":11,"v":7},{"x":2046,"d":12,"v":4},{"x":2046,"d":13,"v":3},
{"x":2047,"d":0,"v":2},{"x":2047,"d":1,"v":2},{"x":2047,"d":2,"v":2},{"x":2047,"d":3,"v":2},{"x":2047,"d":4,"v":2.5},{"x":2047,"d":5,"v":3},{"x":2047,"d":6,"v":5},{"x":2047,"d":7,"v":8},{"x":2047,"d":8,"v":10},{"x":2047,"d":9,"v":10},{"x":2047,"d":10,"v":9},{"x":2047,"d":11,"v":7.5},{"x":2047,"d":12,"v":6},{"x":2047,"d":13,"v":5.5},
{"x":2048,"d":0,"v":5},{"x":2048,"d":1,"v":3},{"x":2048,"d":2,"v":3},{"x":2048,"d":3,"v":2},{"x":2048,"d":4,"v":2},{"x":2048,"d":5,"v":3.5},{"x":2048,"d":6,"v":5},{"x":2048,"d":7,"v":8},{"x":2048,"d":8,"v":9},{"x":2048,"d":9,"v":9.5},{"x":2048,"d":10,"v":8.5},{"x":2048,"d":11,"v":7},{"x":2048,"d":12,"v":4},{"x":2048,"d":13,"v":3},
{"x":2049,"d":0,"v":3},{"x":2049,"d":1,"v":2},{"x":2049,"d":2,"v":1},{"x":2049,"d":3,"v":1},{"x":2049,"d":4,"v":1.5},{"x":2049,"d":5,"v":3},{"x":2049,"d":6,"v":5},{"x":2049,"d":7,"v":9},{"x":2049,"d":8,"v":10},{"x":2049,"d":9,"v":10},{"x":2049,"d":10,"v":9},{"x":2049,"d":11,"v":7.5},{"x":2049,"d":12,"v":5.5},{"x":2049,"d":13,"v":4}
]},
"concat":[
{"width":562,"height":224,"view":{"fill":"#4f6b78","stroke":"#2a3a44","strokeWidth":1.5},"title":{"text":"Fractional ice cover","anchor":"start","frame":"group","dx":-4,"offset":-6,"font":"Roboto","fontSize":61,"fontWeight":"normal","color":"#111111"},
"layer":[{"data":{"name":"ice1"},"mark":"rect","encoding":{"x":{"field":"x","type":"ordinal","axis":null,"scale":{"type":"band","paddingInner":0,"paddingOuter":0,"domain":[1978,1979,1980,1981,1982,1983,1984,1985,1986,1987,1988,1989,1990,1991,1992,1993,1994,1995,1996,1997,1998,1999,2000,2001,2002,2003,2004,2005,2006,2007,2008,2009,2010,2011]}},"y":{"field":"d","type":"ordinal","axis":null,"scale":{"type":"band","paddingInner":0,"paddingOuter":0,"domain":[27,26,25,24,23,22,21,20,19,18,17,16,15,14,13,12,11,10,9,8,7,6,5,4,3,2,1,0]}},"color":{"field":"v","type":"quantitative","legend":null,"scale":{"domain":[0,1,2,3,4,5,6,7,8,9,10],"range":["#4f6b78","#4f9fc4","#55b5c8","#5ccac4","#92d4a0","#c4df80","#ece064","#ecbe5c","#e09a5c","#cc6a5e","#7a5a54"]}}}},
{"data":{"values":[{"t":1978,"n":0},{"t":2012,"n":365}]},"mark":{"type":"point","opacity":0},"encoding":{"x":{"field":"t","type":"quantitative","title":null,"scale":{"domain":[1978,2012],"nice":false,"zero":false},"axis":{"values":[1980,1990,2000,2010],"labels":false,"tickSize":-5,"zindex":1}},"y":{"field":"n","type":"quantitative","title":null,"scale":{"domain":[0,365],"nice":false},"axis":{"values":[0,100,200,300,365],"labelExpr":"datum.value==365?'Dec':datum.value==0?'Jan':''","labelFontSize":42,"labelPadding":14,"tickSize":-5,"zindex":1,"labelBound":false,"labelOverlap":false}}}}],
"resolve":{"scale":{"x":"independent","y":"independent"}}},
{"width":166,"height":224,"view":{"fill":"#4f6b78","stroke":"#2a3a44","strokeWidth":1.5},
"layer":[{"data":{"name":"ice2"},"mark":"rect","encoding":{"x":{"field":"x","type":"ordinal","axis":null,"scale":{"type":"band","paddingInner":0,"paddingOuter":0,"domain":[2040,2041,2042,2043,2044,2045,2046,2047,2048,2049]}},"y":{"field":"d","type":"ordinal","axis":null,"scale":{"type":"band","paddingInner":0,"paddingOuter":0,"domain":[27,26,25,24,23,22,21,20,19,18,17,16,15,14,13,12,11,10,9,8,7,6,5,4,3,2,1,0]}},"color":{"field":"v","type":"quantitative","legend":null,"scale":{"domain":[0,1,2,3,4,5,6,7,8,9,10],"range":["#4f6b78","#4f9fc4","#55b5c8","#5ccac4","#92d4a0","#c4df80","#ece064","#ecbe5c","#e09a5c","#cc6a5e","#7a5a54"]}}}},
{"data":{"values":[{"t":2040,"n":0},{"t":2050,"n":365}]},"mark":{"type":"point","opacity":0},"encoding":{"x":{"field":"t","type":"quantitative","title":null,"scale":{"domain":[2040,2050],"nice":false,"zero":false},"axis":{"values":[2040,2050],"labels":false,"tickSize":-5,"zindex":1}},"y":{"field":"n","type":"quantitative","title":null,"scale":{"domain":[0,365],"nice":false},"axis":{"values":[100,200,300],"labels":false,"tickSize":-5,"zindex":1}}}}],
"resolve":{"scale":{"x":"independent","y":"independent"}}},
{"width":562,"height":223,"view":{"fill":"#4f9fc4","stroke":"#2a3a44","strokeWidth":1.5},"title":{"text":"Surface temperature","anchor":"start","frame":"group","dx":-8,"offset":-8,"font":"Roboto","fontSize":62,"fontWeight":"normal","color":"#111111"},
"layer":[{"data":{"name":"sst1"},"mark":"rect","encoding":{"x":{"field":"x","type":"ordinal","axis":null,"scale":{"type":"band","paddingInner":0,"paddingOuter":0,"domain":[1978,1979,1980,1981,1982,1983,1984,1985,1986,1987,1988,1989,1990,1991,1992,1993,1994,1995,1996,1997,1998,1999,2000,2001,2002,2003,2004,2005,2006,2007,2008,2009,2010,2011]}},"y":{"field":"d","type":"ordinal","axis":null,"scale":{"type":"band","paddingInner":0,"paddingOuter":0,"domain":[13,12,11,10,9,8,7,6,5,4,3,2,1,0]}},"color":{"field":"v","type":"quantitative","legend":null,"scale":{"domain":[0,1,2,3,4,5,6,7,8,9,10],"range":["#4f6b78","#4f9fc4","#55b5c8","#5ccac4","#92d4a0","#c4df80","#ece064","#ecbe5c","#e09a5c","#cc6a5e","#7a5a54"]}}}},
{"data":{"values":[{"t":1978,"n":0},{"t":2012,"n":365}]},"mark":{"type":"point","opacity":0},"encoding":{"x":{"field":"t","type":"quantitative","title":null,"scale":{"domain":[1978,2012],"nice":false,"zero":false},"axis":{"values":[1980,1990,2000,2010],"format":"d","labelAngle":-90,"labelAlign":"right","labelBaseline":"middle","labelFontSize":40,"labelPadding":14,"labelOverlap":false,"labelBound":false,"labelFlush":false,"tickSize":-5,"zindex":1}},"y":{"field":"n","type":"quantitative","title":null,"scale":{"domain":[0,365],"nice":false},"axis":{"values":[0,100,200,300,365],"labelExpr":"datum.value==365?'Dec':datum.value==0?'Jan':''","labelFontSize":42,"labelPadding":14,"tickSize":-5,"zindex":1,"labelBound":false,"labelOverlap":false}}}}],
"resolve":{"scale":{"x":"independent","y":"independent"}}},
{"width":166,"height":223,"view":{"fill":"#4f9fc4","stroke":"#2a3a44","strokeWidth":1.5},
"layer":[{"data":{"name":"sst2"},"mark":"rect","encoding":{"x":{"field":"x","type":"ordinal","axis":null,"scale":{"type":"band","paddingInner":0,"paddingOuter":0,"domain":[2040,2041,2042,2043,2044,2045,2046,2047,2048,2049]}},"y":{"field":"d","type":"ordinal","axis":null,"scale":{"type":"band","paddingInner":0,"paddingOuter":0,"domain":[13,12,11,10,9,8,7,6,5,4,3,2,1,0]}},"color":{"field":"v","type":"quantitative","legend":null,"scale":{"domain":[0,1,2,3,4,5,6,7,8,9,10],"range":["#4f6b78","#4f9fc4","#55b5c8","#5ccac4","#92d4a0","#c4df80","#ece064","#ecbe5c","#e09a5c","#cc6a5e","#7a5a54"]}}}},
{"data":{"values":[{"t":2040,"n":0},{"t":2050,"n":398}]},"mark":{"type":"point","opacity":0},"encoding":{"x":{"field":"t","type":"quantitative","title":null,"scale":{"domain":[2040,2050],"nice":false,"zero":false},"axis":{"values":[2040,2050],"format":"d","labelAngle":-90,"labelAlign":"right","labelBaseline":"middle","labelFontSize":40,"labelPadding":14,"labelOverlap":false,"labelBound":false,"labelFlush":false,"tickSize":-5,"zindex":1}},"y":{"field":"n","type":"quantitative","title":null,"scale":{"domain":[0,398],"nice":false},"axis":{"values":[100,200,300],"labels":false,"tickSize":-5,"zindex":1}}}}],
"resolve":{"scale":{"x":"independent","y":"independent"}}}
]}
